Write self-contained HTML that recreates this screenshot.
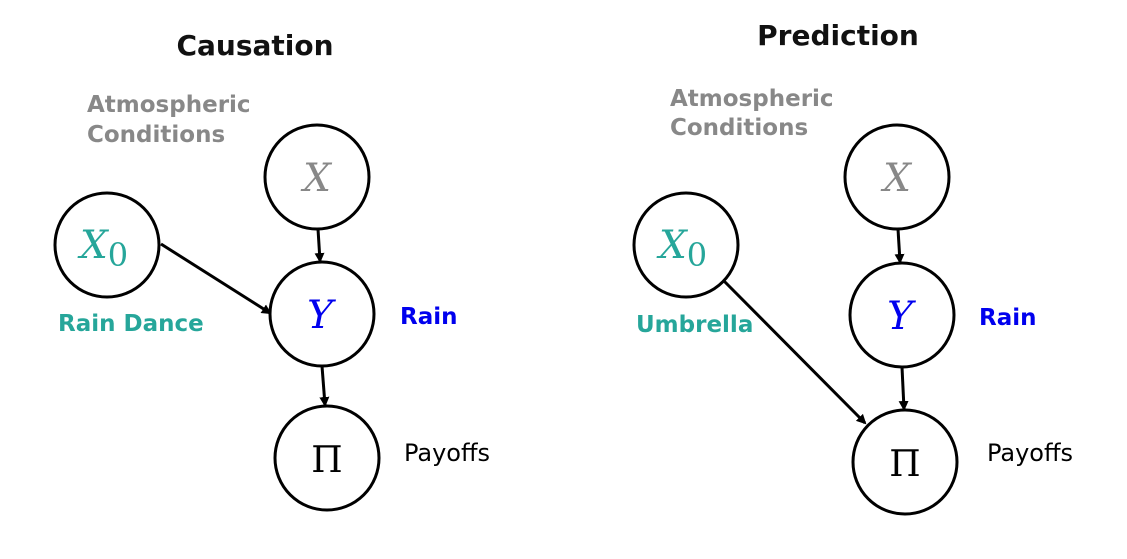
<!DOCTYPE html>
<html><head><meta charset="utf-8"><style>
html,body{margin:0;padding:0;background:#fff;}
svg{display:block;}
.t{font-family:"DejaVu Sans","Liberation Sans",sans-serif;font-weight:bold;}
.m{font-family:"DejaVu Serif","Liberation Serif",serif;font-style:italic;font-size:39px;}
</style></head><body>
<svg width="1127" height="559" viewBox="0 0 1127 559">
<defs><marker id="ah" markerWidth="10" markerHeight="10" refX="8" refY="5" orient="auto" markerUnits="userSpaceOnUse"><path d="M0,0 L10,5 L0,10 z" fill="#000"/></marker></defs>
<g>
<text class="t" x="255" y="55" font-size="28" text-anchor="middle" fill="#111">Causation</text>
<text class="t" x="87" y="112" font-size="23" fill="#888">Atmospheric</text>
<text class="t" x="87" y="142" font-size="23" fill="#888">Conditions</text>
<circle cx="317" cy="177" r="52" fill="none" stroke="#000" stroke-width="3"/>
<text class="m" x="317" y="191" text-anchor="middle" fill="#888">X</text>
<circle cx="107" cy="245" r="52" fill="none" stroke="#000" stroke-width="3"/>
<text class="m" x="104" y="258" text-anchor="middle" fill="#26a69a">X<tspan font-style="normal" font-size="32" dy="8">0</tspan></text>
<circle cx="322" cy="314" r="52" fill="none" stroke="#000" stroke-width="3"/>
<text class="m" x="320" y="328" text-anchor="middle" fill="#0000ee">Y</text>
<circle cx="327" cy="458" r="52" fill="none" stroke="#000" stroke-width="3"/>
<text x="327" y="472" font-family="DejaVu Serif,serif" font-size="36" text-anchor="middle" fill="#000">Π</text>
<line x1="161" y1="244" x2="270" y2="313" stroke="#000" stroke-width="3" marker-end="url(#ah)"/>
<line x1="318" y1="229" x2="320" y2="261" stroke="#000" stroke-width="3" marker-end="url(#ah)"/>
<line x1="322" y1="366" x2="325" y2="405" stroke="#000" stroke-width="3" marker-end="url(#ah)"/>
<text class="t" x="58" y="331" font-size="23" fill="#26a69a">Rain Dance</text>
<text class="t" x="400" y="324" font-size="23" fill="#0000ee">Rain</text>
<text x="404" y="461" font-family="DejaVu Sans,sans-serif" font-size="24" fill="#000">Payoffs</text>
</g>
<g>
<text class="t" x="838" y="45" font-size="28" text-anchor="middle" fill="#111">Prediction</text>
<text class="t" x="670" y="106" font-size="23" fill="#888">Atmospheric</text>
<text class="t" x="670" y="135" font-size="23" fill="#888">Conditions</text>
<circle cx="897" cy="177" r="52" fill="none" stroke="#000" stroke-width="3"/>
<text class="m" x="897" y="191" text-anchor="middle" fill="#888">X</text>
<circle cx="686" cy="245" r="52" fill="none" stroke="#000" stroke-width="3"/>
<text class="m" x="683" y="258" text-anchor="middle" fill="#26a69a">X<tspan font-style="normal" font-size="32" dy="8">0</tspan></text>
<circle cx="902" cy="315" r="52" fill="none" stroke="#000" stroke-width="3"/>
<text class="m" x="900" y="329" text-anchor="middle" fill="#0000ee">Y</text>
<circle cx="905" cy="462" r="52" fill="none" stroke="#000" stroke-width="3"/>
<text x="905" y="476" font-family="DejaVu Serif,serif" font-size="36" text-anchor="middle" fill="#000">Π</text>
<line x1="724" y1="281" x2="865" y2="423" stroke="#000" stroke-width="3" marker-end="url(#ah)"/>
<line x1="898" y1="229" x2="900" y2="262" stroke="#000" stroke-width="3" marker-end="url(#ah)"/>
<line x1="902" y1="367" x2="904" y2="409" stroke="#000" stroke-width="3" marker-end="url(#ah)"/>
<text class="t" x="636" y="332" font-size="23" fill="#26a69a">Umbrella</text>
<text class="t" x="979" y="325" font-size="23" fill="#0000ee">Rain</text>
<text x="987" y="461" font-family="DejaVu Sans,sans-serif" font-size="24" fill="#000">Payoffs</text>
</g>
</svg>
</body></html>
